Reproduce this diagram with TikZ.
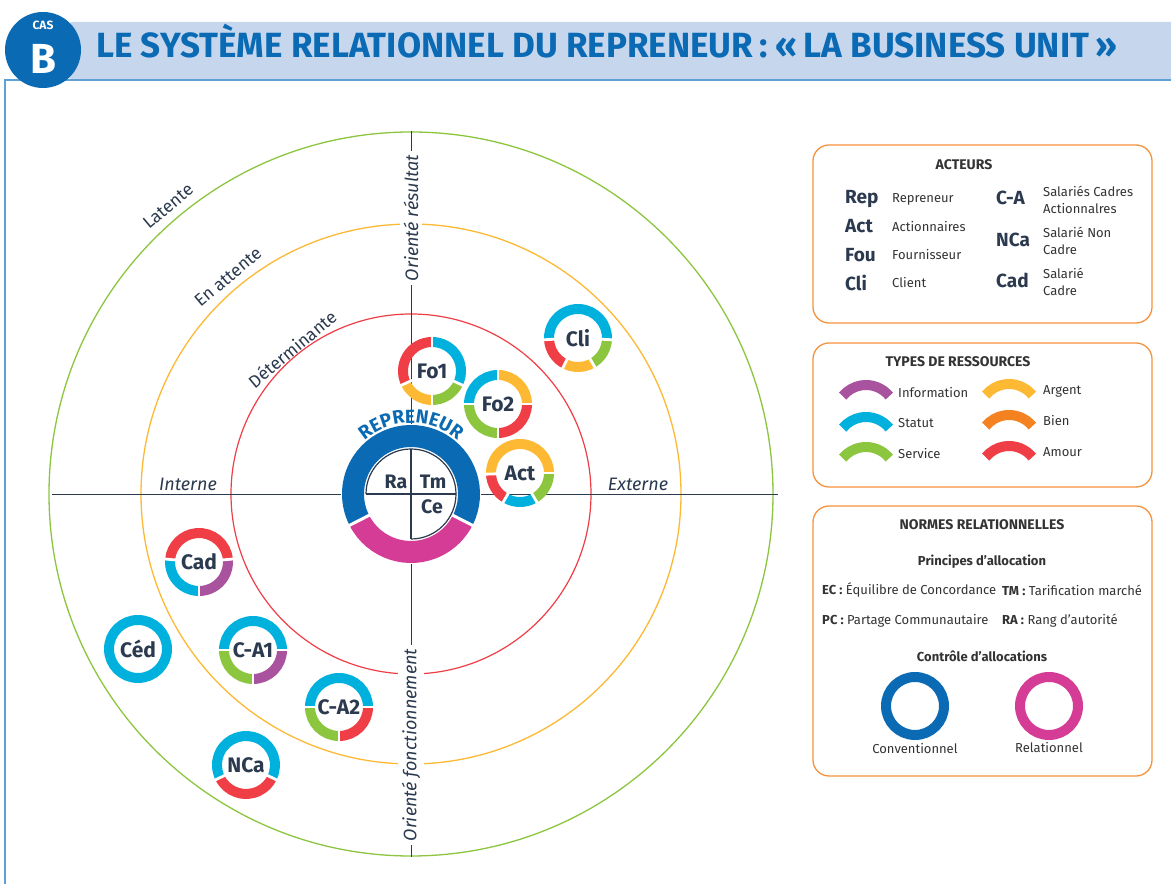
\documentclass[tikz,border=0pt]{standalone}
\usepackage{fontspec}
\setmainfont{Fira Sans}
\usetikzlibrary{decorations.text}
\pgfdeclarelayer{back}\pgfdeclarelayer{mid}
\pgfsetlayers{back,mid,main}
\definecolor{cyanS}{HTML}{00B1DE}
\definecolor{redA}{HTML}{EF3E45}
\definecolor{yellowG}{HTML}{FDB933}
\definecolor{orangeB}{HTML}{F58220}
\definecolor{greenS}{HTML}{8CC63F}
\definecolor{purpleI}{HTML}{A9539F}
\definecolor{blueC}{HTML}{0A6AB4}
\definecolor{magR}{HTML}{D53C96}
\definecolor{darkT}{HTML}{2B3A4F}
\definecolor{grayT}{HTML}{333333}
\definecolor{bandB}{HTML}{C6D6EC}
\definecolor{frameB}{HTML}{5FA0D6}
\definecolor{boxO}{HTML}{F6923C}
\newcommand\fsz[1]{\fontsize{#1}{#1}\selectfont}
\newcommand\rseg[4]{\draw[seg,#2] (#1.center) ++(#3:29) arc[start angle=#3,end angle=#4,radius=29];}
\newcommand\rgap[2]{\draw[gapline] (#1.center) ++(#2:22) -- ++(#2:14);}
\newcommand\legarc[2]{\draw[line width=10pt,#2] (#1) ++(39:30) arc[start angle=39,end angle=141,radius=30];}
\begin{document}
\begin{tikzpicture}[x=1pt,y=1pt,
  actor/.style={circle,minimum size=68pt,inner sep=0pt,text=darkT,font=\fsz{21}\bfseries},
  quad/.style={inner sep=0pt,text=darkT,font=\fsz{19.5}\bfseries},
  seg/.style={line width=10pt},
  gapline/.style={white,line width=2.8pt},
  zone/.style={text=darkT,font=\fsz{17.5},rotate=40},
  axislab/.style={text=darkT,font=\fsz{18}\itshape},
  legbox/.style={draw=boxO,line width=1.3pt,rounded corners=16pt,fill=white},
  legtitle/.style={text=grayT,font=\fsz{14}\bfseries},
  abbr/.style={anchor=west,inner sep=0pt,text=darkT,font=\fsz{19}\bfseries},
  desc/.style={anchor=west,inner sep=0pt,text=grayT,font=\fontsize{13}{17}\selectfont,align=left},
  ctrl/.style={circle,minimum size=68pt,inner sep=0pt}
]
\useasboundingbox (0,0) rectangle (1171,884);
\begin{pgfonlayer}{back}
\fill[white] (0,0) rectangle (1171,884);
\end{pgfonlayer}

% header
\fill[bandB,rounded corners=14pt] (60,805) rectangle (1185,862);
\fill[white] (1171,790) rectangle (1190,884);
\draw[frameB,line width=1.5pt] (1171,804) -- (5,804) -- (5,0);
\node[circle,fill=blueC,minimum size=76pt,inner sep=0pt] (badge) at (43,834) {};
\node[text=white,font=\fsz{12}\bfseries,inner sep=0pt] (cas) at (43,859) {CAS};
\node[text=white,font=\fsz{42}\bfseries,inner sep=0pt] (bb) at (43,825) {B};
\node[anchor=base west,inner sep=0pt,text=blueC,font=\fsz{35}\bfseries] (title) at (96,826) {LE SYSTÈME RELATIONNEL DU REPRENEUR\,: «\,LA BUSINESS UNIT\,»};

% main diagram: centre
\coordinate (C) at (411,390);
\begin{pgfonlayer}{back}
\draw[greenS,line width=1.3pt] (C) circle[radius=362];
\draw[yellowG,line width=1.3pt] (C) circle[radius=270];
\draw[redA,line width=1.2pt] (C) circle[radius=180];
\draw[darkT,line width=0.9pt] (C) ++(-359,0) -- ++(726,0);
\draw[darkT,line width=0.9pt] (C) ++(0,363) -- ++(0,-726);
\end{pgfonlayer}

\node[axislab,rotate=90,fill=white,inner sep=4pt] (ores) at (411,666) {Orienté résultat};
\node[axislab,rotate=90,fill=white,inner sep=4pt] (ofon) at (411,139) {Orienté fonctionnement};
\node[axislab] (int) at (188,400) {Interne};
\node[axislab] (ext) at (638,400) {Externe};
\node[zone] (lat) at (168,678) {Latente};
\node[zone] (att) at (228,607) {En attente};
\node[zone] (det) at (292,535) {Déterminante};

% repreneur
\node[circle,minimum size=138pt,inner sep=0pt] (rep) at (C) {};
\begin{pgfonlayer}{mid}
\fill[white] (rep.center) circle[radius=70];
\draw[line width=22pt,blueC] (rep.center) ++(-27:58) arc[start angle=-27,end angle=207,radius=58];
\draw[line width=22pt,magR] (rep.center) ++(207:58) arc[start angle=207,end angle=333,radius=58];
\draw[white,line width=3pt] (rep.center) ++(-27:45) -- ++(-27:27);
\draw[white,line width=3pt] (rep.center) ++(207:45) -- ++(207:27);
\draw[darkT,line width=1.2pt] (rep.center) ++(180:45) arc[start angle=180,end angle=-90,radius=45];
\draw[darkT,line width=1.2pt] (rep.center) ++(-45,0) -- ++(90,0);
\draw[darkT,line width=1.2pt] (rep.center) ++(0,45) -- ++(0,-90);
\end{pgfonlayer}
\node[quad] (ra) at (396,402) {Ra};
\node[quad] (tm) at (433,402) {Tm};
\node[quad] (ce) at (432,377) {Ce};
\path[decorate,decoration={text along path,text align=center,
  text={|\fsz{19}\bfseries\color{blueC}|REPRENEUR}}]
  (rep.center) ++(150:71) arc[start angle=150,end angle=30,radius=71];

% actors
\node[actor] (fo1) at (432,513) {Fo1};
\node[actor] (fo2) at (498,480) {Fo2};
\node[actor] (act) at (520,411) {Act};
\node[actor] (cli) at (578,546) {Cli};
\node[actor] (cad) at (199,322) {Cad};
\node[actor] (ced) at (138,235) {Céd};
\node[actor] (ca1) at (253,234) {C-A1};
\node[actor] (ca2) at (339,177) {C-A2};
\node[actor] (nca) at (246,119) {NCa};
\begin{pgfonlayer}{mid}
\rseg{fo1}{redA}{90}{205}\rseg{fo1}{yellowG}{205}{270}\rseg{fo1}{greenS}{270}{335}\rseg{fo1}{cyanS}{335}{450}
\rgap{fo1}{90}\rgap{fo1}{205}\rgap{fo1}{270}\rgap{fo1}{335}
\rseg{fo2}{yellowG}{0}{90}\rseg{fo2}{cyanS}{90}{180}\rseg{fo2}{greenS}{180}{270}\rseg{fo2}{redA}{270}{360}
\rgap{fo2}{0}\rgap{fo2}{90}\rgap{fo2}{180}\rgap{fo2}{270}
\rseg{act}{yellowG}{0}{182}\rseg{act}{redA}{182}{240}\rseg{act}{cyanS}{240}{300}\rseg{act}{greenS}{300}{360}
\rgap{act}{0}\rgap{act}{182}\rgap{act}{240}\rgap{act}{300}
\rseg{cli}{cyanS}{-3}{183}\rseg{cli}{redA}{183}{243}\rseg{cli}{yellowG}{243}{300}\rseg{cli}{greenS}{300}{357}
\rgap{cli}{-3}\rgap{cli}{183}\rgap{cli}{243}\rgap{cli}{300}
\rseg{cad}{redA}{5}{175}\rseg{cad}{cyanS}{175}{270}\rseg{cad}{purpleI}{270}{365}
\rgap{cad}{5}\rgap{cad}{175}\rgap{cad}{270}
\draw[seg,cyanS] (ced.center) circle[radius=29];
\rseg{ca1}{cyanS}{0}{180}\rseg{ca1}{greenS}{180}{270}\rseg{ca1}{purpleI}{270}{360}
\rgap{ca1}{0}\rgap{ca1}{180}\rgap{ca1}{270}
\rseg{ca2}{cyanS}{0}{180}\rseg{ca2}{greenS}{180}{270}\rseg{ca2}{redA}{270}{360}
\rgap{ca2}{0}\rgap{ca2}{180}\rgap{ca2}{270}
\rseg{nca}{cyanS}{-26}{206}\rseg{nca}{redA}{206}{334}
\rgap{nca}{206}\rgap{nca}{334}
\end{pgfonlayer}

% legend box 1
\draw[legbox] (813,561) rectangle (1152,739);
\node[legtitle] (t1) at (964,719) {ACTEURS};
\node[abbr] (lrep) at (845,685) {Rep};
\node[abbr] (lact) at (845,658) {Act};
\node[abbr] (lfou) at (845,629) {Fou};
\node[abbr] (lcli) at (845,601) {Cli};
\node[desc] (drep) at (892,685) {Repreneur};
\node[desc] (dact) at (892,657) {Actionnaires};
\node[desc] (dfou) at (892,629) {Fournisseur};
\node[desc] (dcli) at (892,601) {Client};
\node[abbr] (lca) at (996,686) {C-A};
\node[abbr] (lnca) at (996,644) {NCa};
\node[abbr] (lcad) at (996,604) {Cad};
\node[desc] (dca) at (1043,684) {Salariés Cadres\\Actionnalres};
\node[desc] (dnca) at (1043,643) {Salarié Non\\Cadre};
\node[desc] (dcad) at (1043,602) {Salarié\\Cadre};

% legend box 2
\draw[legbox] (813,397) rectangle (1152,541);
\node[legtitle] (t2) at (958,522) {TYPES DE RESSOURCES};
\coordinate (ainf) at (866,469);
\coordinate (asta) at (866,437);
\coordinate (aser) at (866,407);
\coordinate (aarg) at (1009,470);
\coordinate (abie) at (1009,439);
\coordinate (aamo) at (1009,408);
\legarc{ainf}{purpleI}\legarc{asta}{cyanS}\legarc{aser}{greenS}
\legarc{aarg}{yellowG}\legarc{abie}{orangeB}\legarc{aamo}{redA}
\node[desc] (linf) at (898,491) {Information};
\node[desc] (lsta) at (898,461) {Statut};
\node[desc] (lser) at (898,430) {Service};
\node[desc] (larg) at (1043,493) {Argent};
\node[desc] (lbie) at (1043,463) {Bien};
\node[desc] (lamo) at (1043,432) {Amour};

% legend box 3
\draw[legbox] (813,108) rectangle (1152,378);
\node[legtitle] (t3) at (982,359) {NORMES RELATIONNELLES};
\node[legtitle,font=\fsz{13}\bfseries] (pa) at (982,322) {Principes d’allocation};
\node[desc] (ec) at (822,294) {\textbf{EC :} Équilibre de Concordance};
\node[desc] (tmd) at (1002,294) {\textbf{TM :} Tarification marché};
\node[desc] (pc) at (822,263) {\textbf{PC :} Partage Communautaire};
\node[desc] (rad) at (1002,263) {\textbf{RA :} Rang d’autorité};
\node[legtitle,font=\fsz{13}\bfseries] (ca) at (982,228) {Contrôle d’allocations};
\node[ctrl] (conv) at (915,178) {};
\node[ctrl] (rel) at (1049,178) {};
\draw[blueC,line width=10pt] (conv.center) circle[radius=29];
\draw[magR,line width=10pt] (rel.center) circle[radius=29];
\node[desc,anchor=center] (lconv) at (915,135) {Conventionnel};
\node[desc,anchor=center] (lrel) at (1049,136) {Relationnel};
\end{tikzpicture}
\end{document}
